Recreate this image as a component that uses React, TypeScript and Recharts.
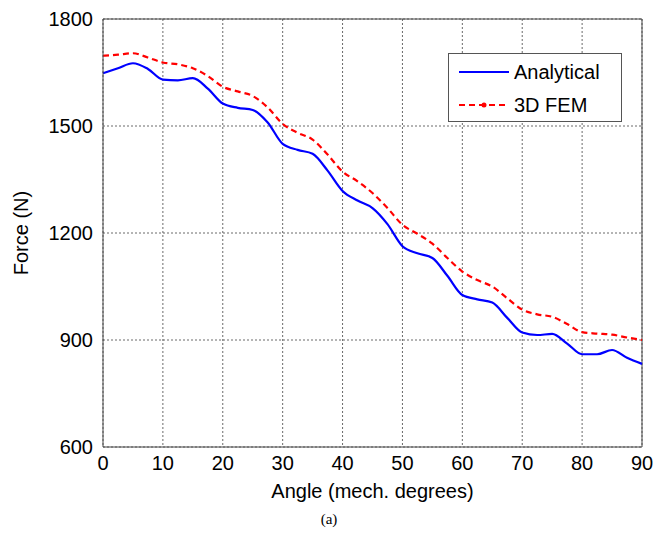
import React from 'react'
import {
  LineChart,
  Line,
  XAxis,
  YAxis,
  CartesianGrid,
  ReferenceLine,
} from 'recharts'

const angles = [
  0, 2.5, 5, 7.5, 10, 12.5, 15, 17.5, 20, 22.5, 25, 27.5, 30, 32.5, 35, 37.5, 40, 42.5, 45,
  47.5, 50, 52.5, 55, 57.5, 60, 62.5, 65, 67.5, 70, 72.5, 75, 77.5, 80, 82.5, 85, 87.5, 90,
]

const analytical = [
  1648, 1662, 1676, 1660, 1630, 1628, 1634, 1605, 1563, 1551, 1545, 1510, 1450, 1433, 1422,
  1375, 1318, 1291, 1270, 1225, 1163, 1143, 1130, 1080, 1026, 1014, 1005, 962, 921, 914, 917,
  890, 860, 860, 872, 850, 833,
]

const fem3d = [
  1697, 1700, 1704, 1692, 1678, 1673, 1662, 1640, 1610, 1597, 1584, 1552, 1506, 1481, 1462,
  1420, 1372, 1345, 1312, 1270, 1223, 1198, 1170, 1130, 1092, 1068, 1050, 1017, 985, 972, 965,
  945, 922, 918, 915, 907, 900,
]

const xTicks = [0, 10, 20, 30, 40, 50, 60, 70, 80, 90]
const yTicks = [600, 900, 1200, 1500, 1800]

const data = angles.map((a, i) => ({ angle: a, analytical: analytical[i], fem: fem3d[i] }))

const FONT = 'Liberation Sans, Arial, sans-serif'

// matlab-style legend box, drawn on top of the chart
const LegendBox = () => (
  <div
    style={{
      position: 'absolute',
      left: 448,
      top: 53,
      width: 174,
      height: 69,
      border: '1px solid #555',
      background: '#fff',
      boxSizing: 'border-box',
    }}
  >
    <svg width={172} height={67} style={{ display: 'block' }}>
      <line x1={10} y1={18} x2={60} y2={18} stroke="#0000ff" strokeWidth={2} />
      <text x={65} y={25} fontFamily={FONT} fontSize={20}>Analytical</text>
      <line x1={10} y1={51} x2={60} y2={51} stroke="#ff0000" strokeWidth={2} strokeDasharray="6 4" />
      <circle cx={35} cy={51} r={2.5} fill="#ff0000" />
      <text x={65} y={58} fontFamily={FONT} fontSize={20}>3D FEM</text>
    </svg>
  </div>
)

export default function App() {
  return (
    <div style={{ position: 'absolute', left: 0, top: 0, width: 658, height: 537, background: '#fff' }}>
      <LineChart
        width={658}
        height={537}
        data={data}
        margin={{ top: 19, right: 16, bottom: 30, left: 23 }}
      >
        <CartesianGrid stroke="#444" strokeDasharray="2 2" strokeWidth={0.8} />
        <XAxis
          dataKey="angle"
          type="number"
          domain={[0, 90]}
          ticks={xTicks}
          height={60}
          tickLine={false}
          tickMargin={3}
          axisLine={{ stroke: '#444' }}
          tick={{ fill: '#000', fontSize: 20, fontFamily: FONT }}
          label={{
            value: 'Angle (mech. degrees)',
            position: 'insideBottom',
            offset: 9,
            fill: '#000',
            fontSize: 20,
            fontFamily: FONT,
          }}
        />
        <YAxis
          type="number"
          domain={[600, 1800]}
          ticks={yTicks}
          width={80}
          tickLine={false}
          tickMargin={4}
          axisLine={{ stroke: '#444' }}
          tick={{ fill: '#000', fontSize: 20, fontFamily: FONT }}
          label={{
            value: 'Force (N)',
            angle: -90,
            position: 'insideLeft',
            offset: -2,
            style: { textAnchor: 'middle' },
            fill: '#000',
            fontSize: 20,
            fontFamily: FONT,
          }}
        />
        <ReferenceLine y={1800} stroke="#444" />
        <ReferenceLine x={90} stroke="#444" />
        <Line
          type="monotone"
          dataKey="analytical"
          stroke="#0000ff"
          strokeWidth={2.2}
          dot={false}
          isAnimationActive={false}
        />
        <Line
          type="monotone"
          dataKey="fem"
          stroke="#ff0000"
          strokeWidth={2.2}
          strokeDasharray="6 4"
          dot={false}
          isAnimationActive={false}
        />
      </LineChart>
      <LegendBox />
      <div
        style={{
          position: 'absolute',
          top: 511,
          left: 0,
          width: 658,
          textAlign: 'center',
          fontFamily: 'Liberation Serif, serif',
          fontSize: 15,
        }}
      >
        (a)
      </div>
    </div>
  )
}
